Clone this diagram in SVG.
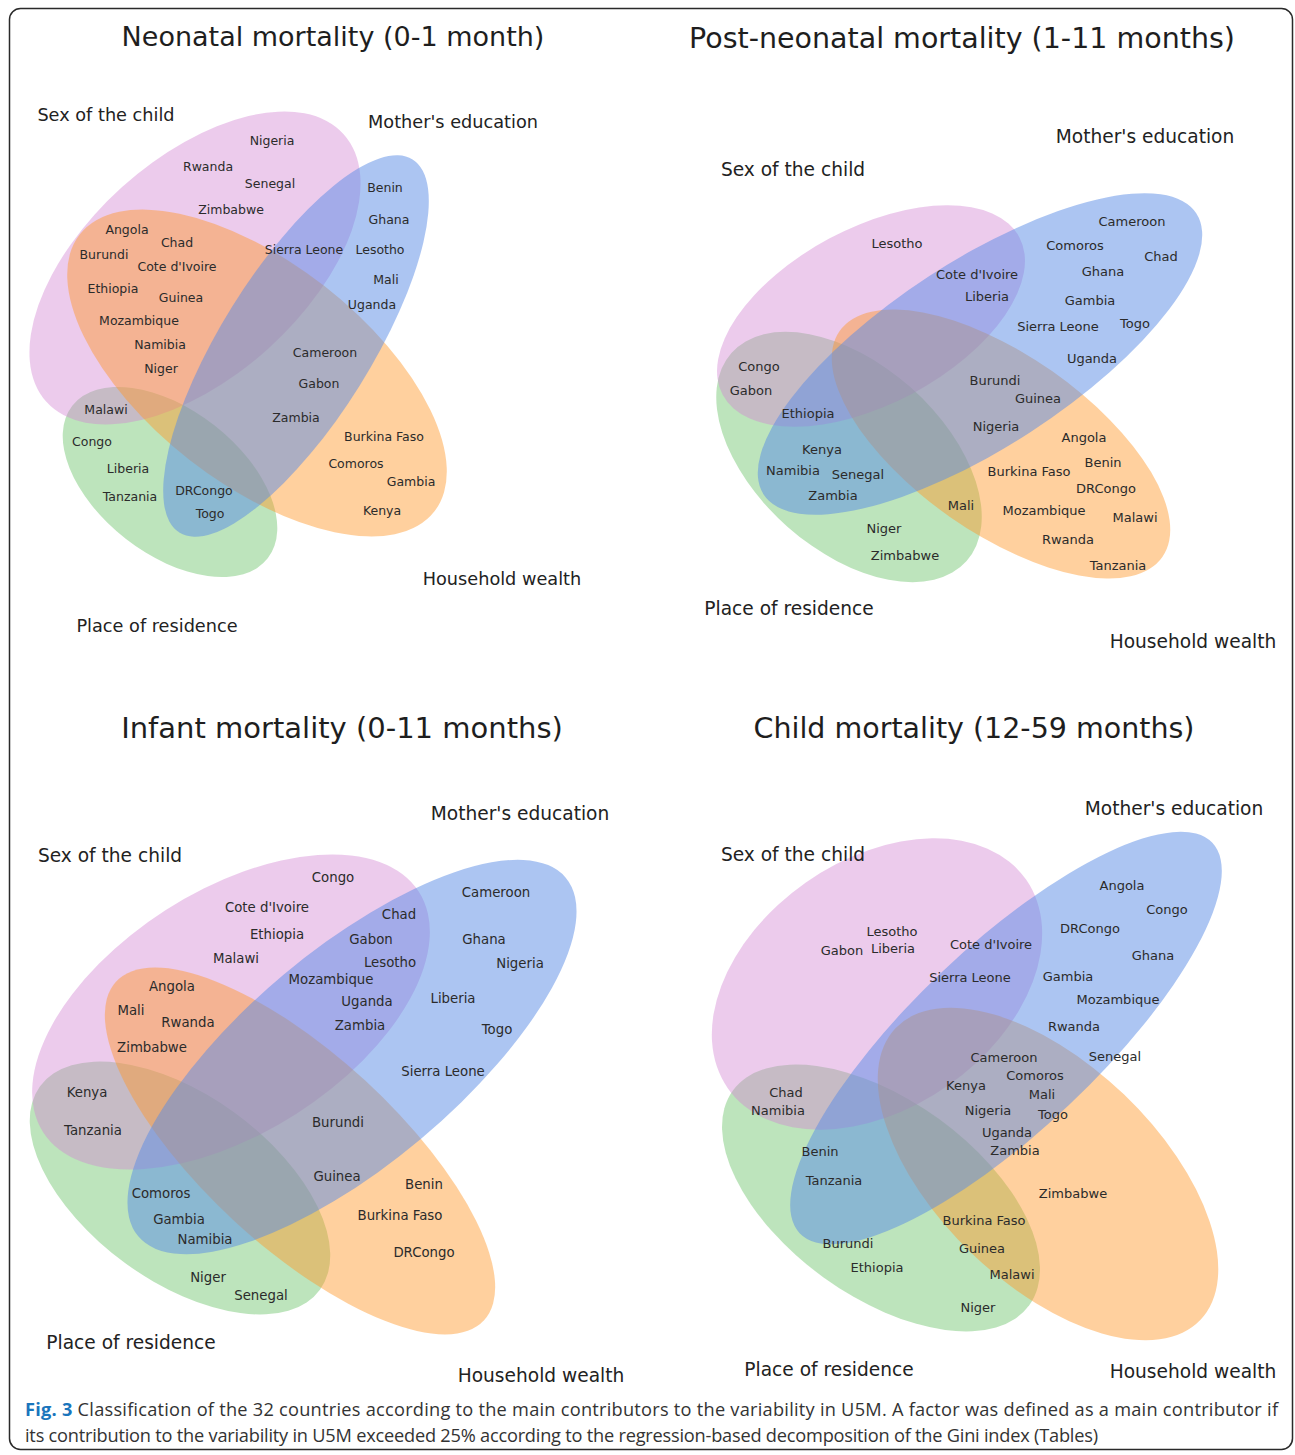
<svg xmlns="http://www.w3.org/2000/svg" width="1295" height="1455" viewBox="0 0 1295 1455">
<style>
.bg{fill:#ffffff}
.frame{fill:none;stroke:#2a2a2a;stroke-width:1.5}
.g{fill:#6cc46a;fill-opacity:.45}
.p{fill:#d282d2;fill-opacity:.42}
.o{fill:#ff9628;fill-opacity:.45}
.b{fill:#5a8ce6;fill-opacity:.5}
text{font-family:"DejaVu Sans",Verdana,sans-serif;fill:#2b2b2b;text-anchor:middle}
.ttl{fill:#1e1e1e}
.s1{font-size:17.7px;fill:#222}
.s2{font-size:18.6px;fill:#222}
.c1{font-size:12.5px}
.c2{font-size:13px}
.c3{font-size:13.3px}
.cap{font-family:"Open Sans","Noto Sans",sans-serif;font-size:18.2px;fill:#333;text-anchor:start}
.fig{font-weight:bold;fill:#1a75bc}
</style>
<rect class="bg" x="0" y="0" width="1295" height="1455"/>
<rect class="frame" x="9.5" y="8.5" width="1283" height="1441" rx="11"/>

<!-- Diagram 1: Neonatal -->
<g id="neonatal">
  <text class="ttl" x="333" y="46" font-size="27">Neonatal mortality (0-1 month)</text>
  <g id="d1-residence"><ellipse class="g" cx="170" cy="482" rx="124" ry="72" transform="rotate(38 170 482)"/><text class="s1" x="157" y="632">Place of residence</text></g>
  <g id="d1-sex"><ellipse class="p" cx="195" cy="268" rx="200" ry="109" transform="rotate(-42 195 268)"/><text class="s1" x="106" y="121">Sex of the child</text></g>
  <g id="d1-wealth"><ellipse class="o" cx="257" cy="373" rx="225" ry="110" transform="rotate(38 257 373)"/><text class="s1" x="502" y="585">Household wealth</text></g>
  <g id="d1-education"><ellipse class="b" cx="296" cy="346" rx="220" ry="75" transform="rotate(-58 296 346)"/><text class="s1" x="453" y="128">Mother's education</text></g>
  <g id="d1-countries" class="c1">
    <text x="272" y="145">Nigeria</text>
    <text x="208" y="171">Rwanda</text>
    <text x="270" y="188">Senegal</text>
    <text x="231" y="214">Zimbabwe</text>
    <text x="385" y="191.5">Benin</text>
    <text x="389" y="223.5">Ghana</text>
    <text x="127" y="233.5">Angola</text>
    <text x="177" y="247">Chad</text>
    <text x="104" y="259">Burundi</text>
    <text x="304" y="254">Sierra Leone</text>
    <text x="380" y="254">Lesotho</text>
    <text x="177" y="270.5">Cote d'Ivoire</text>
    <text x="386" y="284">Mali</text>
    <text x="113" y="293">Ethiopia</text>
    <text x="181" y="302">Guinea</text>
    <text x="372" y="309">Uganda</text>
    <text x="139" y="325">Mozambique</text>
    <text x="160" y="348.5">Namibia</text>
    <text x="325" y="356.5">Cameroon</text>
    <text x="161" y="372.5">Niger</text>
    <text x="319" y="388">Gabon</text>
    <text x="106" y="413.5">Malawi</text>
    <text x="296" y="421.5">Zambia</text>
    <text x="92" y="446">Congo</text>
    <text x="384" y="440.5">Burkina Faso</text>
    <text x="356" y="467.5">Comoros</text>
    <text x="128" y="472.5">Liberia</text>
    <text x="411" y="486">Gambia</text>
    <text x="204" y="494.5">DRCongo</text>
    <text x="130" y="500.5">Tanzania</text>
    <text x="382" y="514.5">Kenya</text>
    <text x="210" y="518">Togo</text>
  </g>
</g>

<!-- Diagram 2: Post-neonatal -->
<g id="post-neonatal">
  <text class="ttl" x="962" y="48" font-size="28.5">Post-neonatal mortality (1-11 months)</text>
  <g id="d2-residence"><ellipse class="g" cx="849" cy="457" rx="157" ry="93" transform="rotate(41.5 849 457)"/><text class="s2" x="789" y="615">Place of residence</text></g>
  <g id="d2-sex"><ellipse class="p" cx="871" cy="316" rx="168" ry="88" transform="rotate(-28 871 316)"/><text class="s2" x="793" y="176">Sex of the child</text></g>
  <g id="d2-wealth"><ellipse class="o" cx="1001" cy="444" rx="197" ry="89" transform="rotate(35 1001 444)"/><text class="s2" x="1193" y="648">Household wealth</text></g>
  <g id="d2-education"><ellipse class="b" cx="980" cy="354" rx="258" ry="93" transform="rotate(-33 980 354)"/><text class="s2" x="1145" y="143">Mother's education</text></g>
  <g id="d2-countries" class="c2">
    <text x="1132" y="226">Cameroon</text>
    <text x="897" y="247.5">Lesotho</text>
    <text x="1075" y="250">Comoros</text>
    <text x="1161" y="261">Chad</text>
    <text x="977" y="278.5">Cote d'Ivoire</text>
    <text x="1103" y="275.5">Ghana</text>
    <text x="987" y="300.5">Liberia</text>
    <text x="1090" y="305">Gambia</text>
    <text x="1058" y="330.5">Sierra Leone</text>
    <text x="1135" y="327.5">Togo</text>
    <text x="1092" y="362.5">Uganda</text>
    <text x="759" y="370.5">Congo</text>
    <text x="995" y="384.5">Burundi</text>
    <text x="751" y="395">Gabon</text>
    <text x="1038" y="402.5">Guinea</text>
    <text x="808" y="417.5">Ethiopia</text>
    <text x="996" y="430.5">Nigeria</text>
    <text x="1084" y="441.5">Angola</text>
    <text x="822" y="453.5">Kenya</text>
    <text x="1103" y="466.5">Benin</text>
    <text x="793" y="475">Namibia</text>
    <text x="858" y="478.5">Senegal</text>
    <text x="1029" y="476">Burkina Faso</text>
    <text x="1106" y="493">DRCongo</text>
    <text x="833" y="500">Zambia</text>
    <text x="961" y="509.5">Mali</text>
    <text x="1044" y="514.5">Mozambique</text>
    <text x="1135" y="521.5">Malawi</text>
    <text x="884" y="532.5">Niger</text>
    <text x="1068" y="543.5">Rwanda</text>
    <text x="905" y="559.5">Zimbabwe</text>
    <text x="1118" y="569.5">Tanzania</text>
  </g>
</g>

<!-- Diagram 3: Infant -->
<g id="infant">
  <text class="ttl" x="342" y="738" font-size="29">Infant mortality (0-11 months)</text>
  <g id="d3-residence"><ellipse class="g" cx="180" cy="1188" rx="173" ry="93" transform="rotate(36 180 1188)"/><text class="s2" x="131" y="1349">Place of residence</text></g>
  <g id="d3-sex"><ellipse class="p" cx="231" cy="1012" rx="223" ry="121" transform="rotate(-32.6 231 1012)"/><text class="s2" x="110" y="862">Sex of the child</text></g>
  <g id="d3-wealth"><ellipse class="o" cx="300" cy="1151" rx="250" ry="96" transform="rotate(42.6 300 1151)"/><text class="s2" x="541" y="1382">Household wealth</text></g>
  <g id="d3-education"><ellipse class="b" cx="352" cy="1057" rx="279" ry="107" transform="rotate(-40 352 1057)"/><text class="s2" x="520" y="820">Mother's education</text></g>
  <g id="d3-countries" class="c3">
    <text x="333" y="882">Congo</text>
    <text x="496" y="897">Cameroon</text>
    <text x="267" y="912">Cote d'Ivoire</text>
    <text x="399" y="919">Chad</text>
    <text x="277" y="939">Ethiopia</text>
    <text x="371" y="944">Gabon</text>
    <text x="484" y="944">Ghana</text>
    <text x="236" y="963">Malawi</text>
    <text x="390" y="967">Lesotho</text>
    <text x="520" y="968">Nigeria</text>
    <text x="172" y="991">Angola</text>
    <text x="331" y="984">Mozambique</text>
    <text x="367" y="1006">Uganda</text>
    <text x="453" y="1003">Liberia</text>
    <text x="131" y="1015">Mali</text>
    <text x="188" y="1027">Rwanda</text>
    <text x="360" y="1030">Zambia</text>
    <text x="497" y="1034">Togo</text>
    <text x="152" y="1052">Zimbabwe</text>
    <text x="443" y="1076">Sierra Leone</text>
    <text x="87" y="1097">Kenya</text>
    <text x="338" y="1127">Burundi</text>
    <text x="93" y="1135">Tanzania</text>
    <text x="337" y="1181">Guinea</text>
    <text x="424" y="1189">Benin</text>
    <text x="161" y="1198">Comoros</text>
    <text x="400" y="1220">Burkina Faso</text>
    <text x="179" y="1224">Gambia</text>
    <text x="205" y="1244">Namibia</text>
    <text x="424" y="1257">DRCongo</text>
    <text x="208" y="1282">Niger</text>
    <text x="261" y="1300">Senegal</text>
  </g>
</g>

<!-- Diagram 4: Child -->
<g id="child">
  <text class="ttl" x="974" y="738" font-size="28.5">Child mortality (12-59 months)</text>
  <g id="d4-residence"><ellipse class="g" cx="881" cy="1198" rx="183" ry="98" transform="rotate(35.9 881 1198)"/><text class="s2" x="829" y="1376">Place of residence</text></g>
  <g id="d4-sex"><ellipse class="p" cx="877" cy="984" rx="182" ry="124" transform="rotate(-35 877 984)"/><text class="s2" x="793" y="861">Sex of the child</text></g>
  <g id="d4-wealth"><ellipse class="o" cx="1048" cy="1174" rx="211" ry="110" transform="rotate(43.8 1048 1174)"/><text class="s2" x="1193" y="1378">Household wealth</text></g>
  <g id="d4-education"><ellipse class="b" cx="1006" cy="1038" rx="284" ry="92" transform="rotate(-43.4 1006 1038)"/><text class="s2" x="1174" y="815">Mother's education</text></g>
  <g id="d4-countries" class="c2">
    <text x="1122" y="890">Angola</text>
    <text x="1167" y="914">Congo</text>
    <text x="892" y="936">Lesotho</text>
    <text x="991" y="949">Cote d'Ivoire</text>
    <text x="842" y="955">Gabon</text>
    <text x="893" y="953">Liberia</text>
    <text x="1090" y="933">DRCongo</text>
    <text x="1153" y="960">Ghana</text>
    <text x="970" y="982">Sierra Leone</text>
    <text x="1068" y="981">Gambia</text>
    <text x="1118" y="1004">Mozambique</text>
    <text x="1074" y="1031">Rwanda</text>
    <text x="1004" y="1062">Cameroon</text>
    <text x="1115" y="1061">Senegal</text>
    <text x="1035" y="1080">Comoros</text>
    <text x="966" y="1090">Kenya</text>
    <text x="786" y="1097">Chad</text>
    <text x="1042" y="1099">Mali</text>
    <text x="778" y="1115">Namibia</text>
    <text x="988" y="1115">Nigeria</text>
    <text x="1053" y="1119">Togo</text>
    <text x="1007" y="1137">Uganda</text>
    <text x="820" y="1156">Benin</text>
    <text x="1015" y="1155">Zambia</text>
    <text x="834" y="1185">Tanzania</text>
    <text x="1073" y="1198">Zimbabwe</text>
    <text x="984" y="1225">Burkina Faso</text>
    <text x="848" y="1248">Burundi</text>
    <text x="982" y="1253">Guinea</text>
    <text x="877" y="1272">Ethiopia</text>
    <text x="1012" y="1279">Malawi</text>
    <text x="978" y="1312">Niger</text>
  </g>
</g>

<g id="caption">
  <text class="cap" x="25" y="1416" textLength="1253" lengthAdjust="spacing"><tspan class="fig">Fig. 3</tspan> Classification of the 32 countries according to the main contributors to the variability in U5M. A factor was defined as a main contributor if</text>
  <text class="cap" x="25" y="1442" textLength="1073" lengthAdjust="spacing">its contribution to the variability in U5M exceeded 25% according to the regression-based decomposition of the Gini index (Tables)</text>
</g>
</svg>
